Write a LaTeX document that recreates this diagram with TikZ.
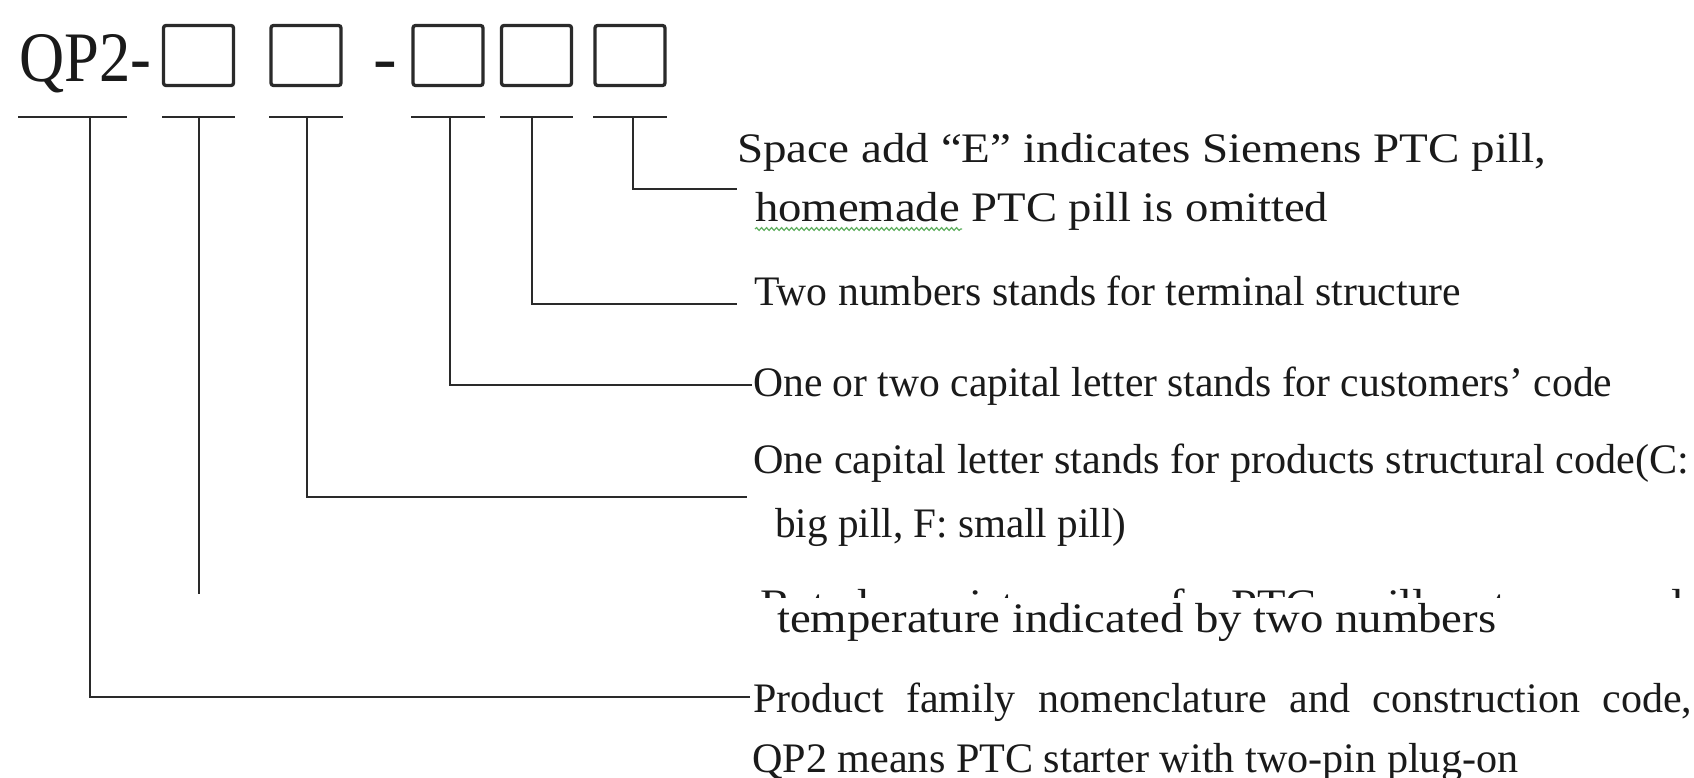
\documentclass[tikz,border=0pt]{standalone}
\usepackage{fontspec}
\setmainfont{Liberation Serif}
\usepackage{graphicx}
\usetikzlibrary{decorations.pathmorphing}
\definecolor{ink}{HTML}{1A1A1A}
\definecolor{linec}{HTML}{2A2A2A}
\definecolor{spell}{HTML}{5FAF5F}
\newcommand{\fitw}[2]{\resizebox{#1pt}{\height}{#2}}
\begin{document}
\begin{tikzpicture}[x=1pt,y=-1pt,
  conn/.style={draw=linec,line width=2.9pt},
  boxsty/.style={draw=linec,line width=3.3pt,rounded corners=2.5pt,minimum width=70pt,minimum height=60pt,inner sep=0pt},
  txt/.style={inner sep=0pt,text=ink,anchor=base west,font=\fontsize{42}{42}\selectfont},
  bigtxt/.style={inner sep=0pt,text=ink,font=\fontsize{71}{71}\selectfont}]
\useasboundingbox (0,0) rectangle (1694,778);
% code line
\node[bigtxt,anchor=base west] (qp) at (19,82) {\fitw{132}{QP2-}};
\node[boxsty] (b1) at (198.5,55.5) {};
\node[boxsty] (b2) at (306,55.5) {};
\node[bigtxt,anchor=base] (dash) at (385.5,82) {-};
\node[boxsty] (b3) at (448,55.5) {};
\node[boxsty] (b4) at (536.5,55.5) {};
\node[boxsty] (b5) at (630,55.5) {};
% underlines
\coordinate (u0a) at (18,117);  \coordinate (u0b) at (127,117);
\coordinate (u1a) at (162,117); \coordinate (u1b) at (235,117);
\coordinate (u2a) at (269,117); \coordinate (u2b) at (343,117);
\coordinate (u3a) at (411,117); \coordinate (u3b) at (485,117);
\coordinate (u4a) at (500,117); \coordinate (u4b) at (573,117);
\coordinate (u5a) at (593,117); \coordinate (u5b) at (667,117);
\foreach \i in {0,...,5} {\draw[conn] (u\i a) -- (u\i b);}
% texts
\node[txt] (t1) at (737,163) {\fitw{809}{Space add “E” indicates Siemens PTC pill,}};
\node[txt] (t2) at (755,222) {\fitw{573}{homemade PTC pill is omitted}};
\node[txt] (t3) at (754,305) {\fitw{707}{Two numbers stands for terminal structure}};
\node[txt] (t4) at (753,396) {\fitw{859}{One or two capital letter stands for customers’ code}};
\node[txt] (t5) at (753,473) {\fitw{936}{One capital letter stands for products structural code(C:}};
\node[txt] (t6) at (775,537) {\fitw{351}{big pill, F: small pill)}};
\begin{scope}
\clip (700,575) rectangle (1694,597.5);
\node[txt] (t7) at (760,618) {\scalebox{1.11}[1]{\makebox[833pt][s]{Rated resistance of PTC pill at normal}}};
\end{scope}
\node[txt] (t8) at (777,632) {\fitw{719}{temperature indicated by two numbers}};
\node[txt] (t9) at (753,712) {\makebox[939pt][s]{Product family nomenclature and construction code,}};
\node[txt] (t10) at (752,772) {\fitw{766}{QP2 means PTC starter with two-pin plug-on}};
% spell-check squiggle
\draw[spell,line width=1.2pt,decorate,decoration={snake,amplitude=1.4pt,segment length=5pt}] (755,229) -- (962,229);
% connectors
\coordinate (v5) at (633,117); \coordinate (e5) at (737,189);
\coordinate (v4) at (532,117); \coordinate (e4) at (737,304);
\coordinate (v3) at (450,117); \coordinate (e3) at (752,385);
\coordinate (v2) at (307,117); \coordinate (e2) at (747,497);
\coordinate (v1) at (199,117); \coordinate (e1) at (199,594);
\coordinate (v0) at (90,117);  \coordinate (e0) at (750,697);
\draw[conn] (v5) |- (e5);
\draw[conn] (v4) |- (e4);
\draw[conn] (v3) |- (e3);
\draw[conn] (v2) |- (e2);
\draw[conn] (v1) -- (e1);
\draw[conn] (v0) |- (e0);
\end{tikzpicture}
\end{document}
